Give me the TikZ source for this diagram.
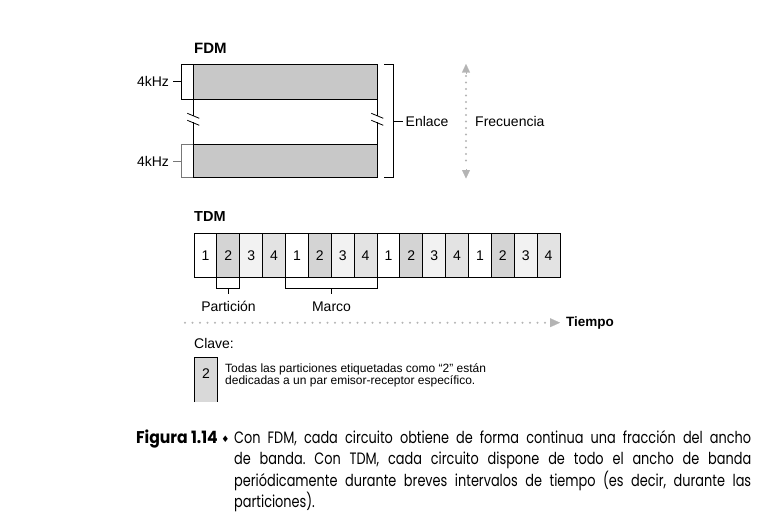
\documentclass[tikz,border=0pt]{standalone}
\usepackage{fontspec}
\setmainfont{Liberation Sans}
\newfontfamily\capfont[FakeStretch=0.78]{Poppins}
\newfontfamily\capbold[FakeStretch=0.92]{Poppins}
\newfontfamily\symfont{DejaVu Sans}
\usetikzlibrary{arrows.meta,calc}
\definecolor{bandgray}{HTML}{C8C8C8}
\definecolor{slottwo}{HTML}{D4D4D4}
\definecolor{slotthree}{HTML}{F2F2F2}
\definecolor{slotfour}{HTML}{E3E3E3}
\definecolor{keygray}{HTML}{D9D9D9}
\definecolor{dotgray}{HTML}{B4B4B4}
\definecolor{brackgray}{HTML}{777777}
\tikzset{
  lab/.style={font=\fontsize{14}{16}\selectfont, inner sep=0pt},
  boldlab/.style={font=\fontsize{15}{17}\selectfont\bfseries, inner sep=0pt},
  band/.style={draw, fill=bandgray, line width=0.8pt, minimum width=184pt, inner sep=0pt, outer sep=0pt, anchor=north west},
  slotbox/.style={draw, line width=0.8pt, minimum width=22.875pt, minimum height=44pt, inner sep=0pt, outer sep=0pt, anchor=north west, font=\fontsize{14}{16}\selectfont},
  thin/.style={line width=0.8pt},
  dotline/.style={dotgray, line width=2.2pt, line cap=round, dash pattern=on 0pt off 7.5pt},
  vdotline/.style={dotgray, line width=2.2pt, line cap=round, dash pattern=on 0pt off 6.5pt}
}
\begin{document}
\begin{tikzpicture}[x=1pt,y=-1pt]
\useasboundingbox (0,0) rectangle (759,525);

% ---------- FDM ----------
\node[boldlab, anchor=west] (fdm) at (194,48) {FDM};
\node[band, minimum height=35pt] (top) at (193.3,64.3) {};
\node[band, minimum height=33.4pt] (bot) at (193.3,144.3) {};

% link sides with break marks
\foreach \side/\nm in {west/l, east/r}{
  \coordinate (\nm a) at ([yshift=-17pt]top.south \side);
  \coordinate (\nm b) at ([yshift=22pt]bot.north \side);
  \draw[thin] (top.south \side) -- (\nm a);
  \draw[thin] (\nm b) -- (bot.north \side);
  \draw[thin] ([xshift=-6pt,yshift=3pt]\nm a) -- ([xshift=6pt,yshift=-2pt]\nm a);
  \draw[thin] ([xshift=-6pt,yshift=2pt]\nm b) -- ([xshift=6pt,yshift=-3pt]\nm b);
}

% left brackets
\draw[thin] (top.north west) -- ++(-11.6,0) coordinate (tb1) -- (tb1 |- top.south west) -- (top.south west);
\coordinate (tbm) at ($(tb1)!0.5!(tb1 |- top.south west)$);
\node[lab, anchor=east] (khz1) at ([xshift=-12.5pt]tbm) {4kHz};
\draw[thin] (tbm) -- ([xshift=3.5pt]khz1.east);

\draw[thin, brackgray] (bot.north west) -- ++(-11.6,0) coordinate (bb1) -- (bb1 |- bot.south west) -- (bot.south west);
\coordinate (bbm) at ($(bb1)!0.5!(bb1 |- bot.south west)$);
\node[lab, anchor=east] (khz2) at ([xshift=-12.5pt]bbm) {4kHz};
\draw[thin, brackgray] (bbm) -- ([xshift=3.5pt]khz2.east);

% right bracket
\coordinate (rb1) at (384,64.3);
\coordinate (rb2) at (393.3,64.3);
\coordinate (rb3) at (393.3,177.7);
\coordinate (rb4) at (384,177.7);
\draw[thin] (rb1) -- (rb2) -- (rb3) -- (rb4);
\coordinate (rbm) at (393.3,121);
\node[lab, anchor=west] (enlace) at (405.5,121) {Enlace};
\draw[thin] (rbm) -- ([xshift=-2.5pt]enlace.west);

% frequency arrow
\coordinate (fa) at (466,64);
\coordinate (fb) at (466,178.5);
\draw[vdotline] (466,76) -- (466,167);
\draw[dotgray, line width=0.1pt, -{Triangle[length=8.5pt,width=8pt]}] (466,74) -- (fa);
\draw[dotgray, line width=0.1pt, -{Triangle[length=8.5pt,width=8pt]}] (466,169) -- (fb);
\node[lab, anchor=west] (frec) at (475,121) {Frecuencia};

% ---------- TDM ----------
\node[boldlab, anchor=west, font=\fontsize{14.5}{17}\selectfont\bfseries] (tdm) at (194,216.7) {TDM};
\foreach \i in {0,...,15}{
  \pgfmathtruncatemacro{\n}{\i+1}
  \pgfmathtruncatemacro{\k}{mod(\i,4)+1}
  \ifcase\k\or\def\fc{white}\or\def\fc{slottwo}\or\def\fc{slotthree}\or\def\fc{slotfour}\fi
  \node[slotbox, fill=\fc] (s\n) at ({194+\i*22.875},233.3) {\k};
}

% Particion bracket
\draw[thin] (s2.south west) -- ++(0,11) coordinate (pb1) -- (pb1 -| s2.south east) coordinate (pb2) -- (s2.south east);
\coordinate (pbm) at ($(pb1)!0.5!(pb2)$);
\node[lab] (part) at (228.5,306.7) {Partición};
\draw[thin] (pbm) -- ++(0,5.5);

% Marco bracket
\draw[thin] (s5.south west) -- ++(0,11) coordinate (mb1) -- (mb1 -| s8.south east) coordinate (mb2) -- (s8.south east);
\coordinate (mbm) at ($(mb1)!0.5!(mb2)$);
\node[lab] (marco) at (331.5,306.7) {Marco};
\draw[thin] (mbm) -- ++(0,5.5);

% time arrow
\coordinate (ta) at (185,322.7);
\coordinate (tb) at (560,322.7);
\draw[dotline] (ta) -- (547,322.7);
\draw[dotgray, line width=0.1pt, -{Triangle[length=10pt,width=9pt]}] (550,322.7) -- (tb);
\node[lab, anchor=west, font=\fontsize{13.5}{16}\selectfont\bfseries] (tiempo) at (566,323.3) {Tiempo};

% ---------- Clave ----------
\node[lab, anchor=west] (clave) at (194,343.3) {Clave:};
\fill[keygray] (194,357.5) rectangle (217.7,402);
\draw[thin] (194,402) -- (194,357.5) -- (217.7,357.5) -- (217.7,402);
\node[lab] (keytwo) at (205.9,374) {2};
\node[anchor=west, inner sep=0pt, align=left, font=\fontsize{12}{12.4}\selectfont] (keytxt) at (225,375.5)
  {Todas las particiones etiquetadas como “2” están\\dedicadas a un par emisor-receptor específico.};

% ---------- Caption ----------
\node[anchor=base east, inner sep=0pt, font=\capbold\fontsize{17}{18}\selectfont\bfseries] (fig) at (218,443.5) {Figura 1.14};
\node[anchor=base, inner sep=0pt, font=\symfont\fontsize{9}{10}\selectfont] (diam) at (225.5,442.5) {♦};
\node[anchor=base west, inner sep=0pt] (cap) at (234,443.5) {\parbox[t]{517pt}{\capfont\fontsize{16.5}{21.3}\selectfont\hyphenpenalty=10000\frenchspacing
Con FDM, cada circuito obtiene de forma continua una fracción del ancho\linebreak
de banda. Con TDM, cada circuito dispone de todo el ancho de banda\linebreak
periódicamente durante breves intervalos de tiempo (es decir, durante las\linebreak
particiones).}};
\end{tikzpicture}
\end{document}
